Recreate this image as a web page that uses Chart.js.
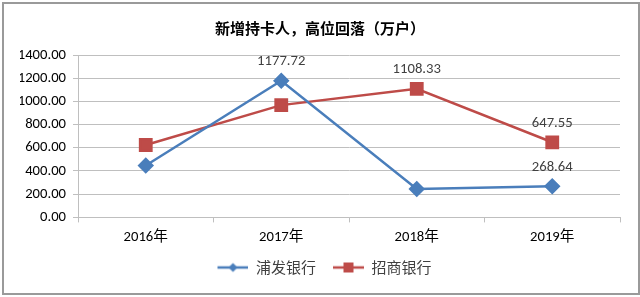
<!DOCTYPE html>
<html>
<head>
<meta charset="utf-8">
<script src="https://cdn.jsdelivr.net/npm/chart.js@4/dist/chart.umd.min.js"></script>
<style>
  html, body { margin: 0; padding: 0; background: #fff; }
  #wrap { position: absolute; left: 2px; top: 2px; width: 634px; height: 289px; border: 2px solid #9a9a9a; }
  canvas { position: absolute; left: -4px; top: -4px; }
</style>
</head>
<body>
<div id="wrap"><canvas id="c" width="640" height="297"></canvas></div>
<script>
const years = ['2016年', '2017年', '2018年', '2019年'];
const pufa = [447, 1177.72, 245, 268.64];
const zhaoshang = [624, 968, 1108.33, 647.55];
const pufaLabels = [null, '1177.72', null, '268.64'];
const zhaoshangLabels = [null, null, '1108.33', '647.55'];
const yTicks = [0, 200, 400, 600, 800, 1000, 1200, 1400];

const blue = '#4a7ebb';
const red = '#be4b48';
const numFont = 'Carlito, Lato, "Liberation Sans", sans-serif';

// legend icon: short line with marker in the middle (canvas is wider than the box so the text sits close)
function legendIcon(color, shape) {
    const cv = document.createElement('canvas');
    cv.width = 40; cv.height = 14;
    const g = cv.getContext('2d');
    g.strokeStyle = color; g.lineWidth = 2.5;
    g.beginPath(); g.moveTo(9, 7); g.lineTo(40, 7); g.stroke();
    g.fillStyle = color;
    if (shape === 'diamond') {
        g.beginPath(); g.moveTo(24.5, 2.5); g.lineTo(29, 7); g.lineTo(24.5, 11.5); g.lineTo(20, 7); g.closePath(); g.fill();
    } else {
        g.fillRect(19.5, 2, 10, 10);
    }
    return cv;
}

// draws the few value labels shown above points
const valueLabels = {
    id: 'valueLabels',
    afterDatasetsDraw(chart) {
        const ctx = chart.ctx;
        ctx.save();
        ctx.font = '14.67px ' + numFont;
        ctx.fillStyle = '#404040';
        ctx.textAlign = 'center';
        ctx.textBaseline = 'middle';
        [pufaLabels, zhaoshangLabels].forEach((labels, di) => {
            const meta = chart.getDatasetMeta(di);
            labels.forEach((txt, i) => {
                if (!txt) return;
                const p = meta.data[i];
                ctx.fillText(txt, p.x, p.y - 19);
            });
        });
        ctx.restore();
    }
};

new Chart(document.getElementById('c'), {
    type: 'line',
    data: {
        labels: years,
        datasets: [{
            label: '浦发银行',
            data: pufa,
            borderColor: blue,
            backgroundColor: blue,
            borderWidth: 2.5,
            pointStyle: 'rectRot',
            pointRadius: 6.5,
            pointHoverRadius: 6.5,
            tension: 0
        }, {
            label: '招商银行',
            data: zhaoshang,
            borderColor: red,
            backgroundColor: red,
            borderWidth: 2.5,
            pointStyle: 'rect',
            pointRadius: 8,
            pointHoverRadius: 8,
            tension: 0
        }]
    },
    options: {
        responsive: false,
        animation: false,
        layout: { padding: { left: 20, right: 20, top: 10, bottom: 12 } },
        plugins: {
            title: {
                display: true,
                text: '新增持卡人，高位回落（万户）',
                color: '#000',
                font: { family: '"Noto Sans CJK SC", sans-serif', size: 15, weight: 'bold' },
                padding: { top: 9, bottom: 18 }
            },
            legend: {
                position: 'bottom',
                labels: {
                    usePointStyle: true,
                    pointStyleWidth: 40,
                    boxHeight: 14,
                    color: '#404040',
                    font: { family: '"Noto Sans CJK SC", sans-serif', size: 15 },
                    padding: 8,
                    generateLabels: chart => chart.data.datasets.map((ds, i) => ({
                        text: ds.label,
                        pointStyle: legendIcon(ds.borderColor, i === 0 ? 'diamond' : 'square'),
                        fontColor: '#404040',
                        strokeStyle: ds.borderColor,
                        fillStyle: ds.borderColor,
                        lineWidth: 0,
                        datasetIndex: i
                    }))
                }
            },
            tooltip: { enabled: false }
        },
        scales: {
            x: {
                offset: true,
                grid: { display: true, drawOnChartArea: false, drawTicks: true, tickLength: 5, offset: true, color: '#bfbfbf' },
                border: { display: true, color: '#bfbfbf' },
                ticks: { color: '#000', font: { family: 'Carlito, Lato, "Noto Sans CJK SC", sans-serif', size: 14.67 }, padding: 6 }
            },
            y: {
                min: 0,
                max: 1400,
                afterBuildTicks: s => { s.ticks = yTicks.map(v => ({ value: v })); },
                afterFit: s => { s.width = 58; },
                grid: { color: '#bfbfbf', tickLength: 5 },
                border: { display: true, color: '#bfbfbf' },
                ticks: {
                    color: '#000',
                    font: { family: numFont, size: 14.67 },
                    padding: 7,
                    callback: v => v.toFixed(2)
                }
            }
        }
    },
    plugins: [valueLabels]
});
</script>
</body>
</html>
